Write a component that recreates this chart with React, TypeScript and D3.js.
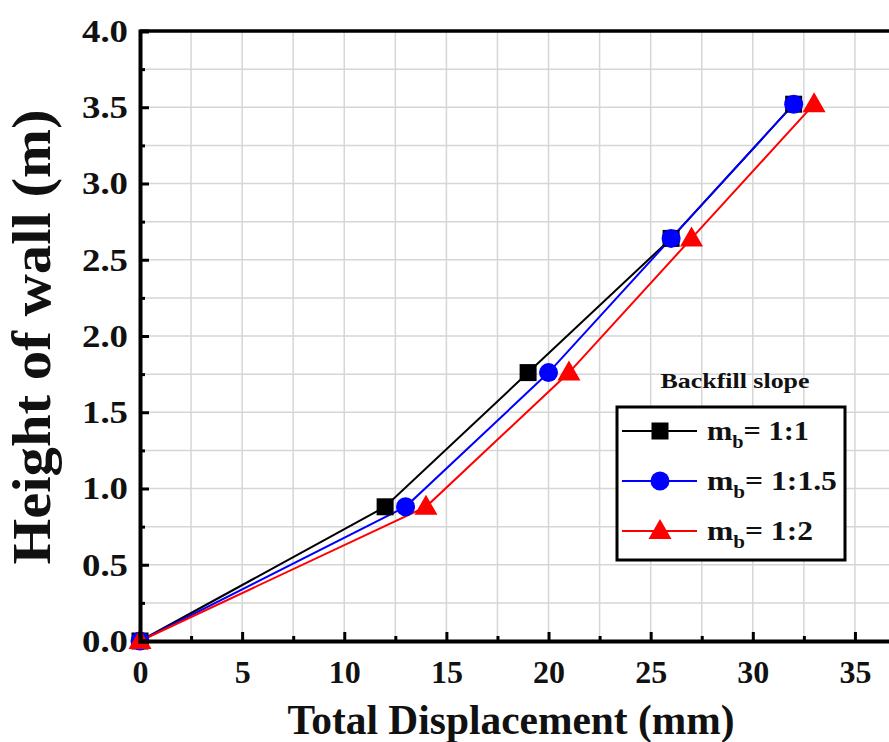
import React, { useEffect, useRef } from "react";
import * as d3 from "d3";

const seriesNames = ["1:1", "1:1.5", "1:2"];
const seriesColors = ["#000000", "#0000ff", "#ff0000"];
const seriesShapes = ["square", "circle", "triangle"];
const heights = [0, 0.88, 1.76, 2.64, 3.52];
const dispSlope11 = [0, 12, 19, 26, 32];
const dispSlope115 = [0, 13, 20, 26, 32];
const dispSlope12 = [0, 14, 21, 27, 33];
const xTicks = [0, 5, 10, 15, 20, 25, 30, 35];
const yTicks = [0, 0.5, 1.0, 1.5, 2.0, 2.5, 3.0, 3.5, 4.0];

const App = () => {
  const ref = useRef<SVGSVGElement>(null);

  useEffect(() => {
    const width = 889;
    const height = 742;
    const margin = { top: 31, left: 140 };
    const plotW = 766;
    const plotH = 610;
    const font = "'Times New Roman', 'Liberation Serif', Times, serif";

    const svg = d3.select(ref.current);
    svg.selectAll("*").remove();
    svg.attr("width", width).attr("height", height).style("background", "#fff");

    const x = d3.scaleLinear().domain([0, 37.5]).range([0, plotW]);
    const y = d3.scaleLinear().domain([0, 4]).range([plotH, 0]);

    const g = svg.append("g").attr("transform", `translate(${margin.left},${margin.top})`);

    // grid every minor step
    const xGrid = d3.range(2.5, 37.5, 2.5);
    const yGrid = d3.range(0.25, 4, 0.25);
    g.selectAll(".vg").data(xGrid).enter().append("line")
      .attr("x1", d => x(d)).attr("x2", d => x(d))
      .attr("y1", 0).attr("y2", plotH)
      .attr("stroke", "#d6d6d6").attr("stroke-width", 1.5);
    g.selectAll(".hg").data(yGrid).enter().append("line")
      .attr("x1", 0).attr("x2", plotW)
      .attr("y1", d => y(d)).attr("y2", d => y(d))
      .attr("stroke", "#d6d6d6").attr("stroke-width", 1.5);

    const series = [dispSlope11, dispSlope115, dispSlope12].map((xs, i) => ({
      name: seriesNames[i],
      color: seriesColors[i],
      shape: seriesShapes[i],
      points: xs.map((v, j) => [v, heights[j]] as [number, number]),
    }));

    const line = d3.line<[number, number]>().x(d => x(d[0])).y(d => y(d[1]));

    series.forEach(s => {
      g.append("path").datum(s.points)
        .attr("d", line)
        .attr("fill", "none")
        .attr("stroke", s.color)
        .attr("stroke-width", 2);
    });

    const drawMarker = (sel: any, shape: string, color: string, cx: number, cy: number) => {
      if (shape === "square") {
        sel.append("rect").attr("x", cx - 8.5).attr("y", cy - 8.5).attr("width", 17).attr("height", 17).attr("fill", color);
      } else if (shape === "circle") {
        sel.append("circle").attr("cx", cx).attr("cy", cy).attr("r", 9.5).attr("fill", color);
      } else {
        sel.append("path")
          .attr("d", `M${cx},${cy - 12}L${cx + 11.5},${cy + 8}L${cx - 11.5},${cy + 8}Z`)
          .attr("fill", color);
      }
    };

    series.forEach(s => {
      const mg = g.append("g");
      s.points.forEach(p => drawMarker(mg, s.shape, s.color, x(p[0]), y(p[1])));
    });

    // frame
    g.append("line").attr("x1", 0).attr("x2", plotW).attr("y1", 0).attr("y2", 0)
      .attr("stroke", "#000").attr("stroke-width", 3.5);
    g.append("line").attr("x1", plotW).attr("x2", plotW).attr("y1", 0).attr("y2", plotH)
      .attr("stroke", "#000").attr("stroke-width", 3.5);

    const xAxis = g.append("g").attr("transform", `translate(0,${plotH})`)
      .call(d3.axisBottom(x).tickValues(xTicks).tickSize(-9).tickPadding(19).tickFormat(d3.format("d")));
    const xMinor = g.append("g").attr("transform", `translate(0,${plotH})`)
      .call(d3.axisBottom(x).tickValues(d3.range(2.5, 37.5, 5)).tickSize(-5).tickFormat(() => ""));
    const yAxis = g.append("g")
      .call(d3.axisLeft(y).tickValues(yTicks).tickSize(-9).tickPadding(12).tickFormat(d3.format(".1f")));
    const yMinor = g.append("g")
      .call(d3.axisLeft(y).tickValues(d3.range(0.25, 4, 0.5)).tickSize(-5).tickFormat(() => ""));

    [xAxis, xMinor, yAxis, yMinor].forEach(a => {
      a.select(".domain").attr("stroke-width", 4).attr("stroke", "#000");
      a.selectAll(".tick line").attr("stroke-width", 3).attr("stroke", "#000");
      a.selectAll("text")
        .style("font-family", font)
        .style("font-weight", "bold")
        .style("font-size", "32px")
        .attr("fill", "#111");
    });
    yAxis.selectAll("text").attr("textLength", 46).attr("lengthAdjust", "spacingAndGlyphs");
    xMinor.select(".domain").remove();
    yMinor.select(".domain").remove();

    // axis titles
    svg.append("text")
      .attr("x", 511).attr("y", 734)
      .attr("text-anchor", "middle")
      .style("font-family", font).style("font-weight", "bold").style("font-size", "42px")
      .attr("fill", "#111")
      .attr("textLength", 447).attr("lengthAdjust", "spacingAndGlyphs")
      .text("Total Displacement (mm)");
    svg.append("text")
      .attr("transform", `translate(50,337) rotate(-90)`)
      .attr("text-anchor", "middle")
      .style("font-family", font).style("font-weight", "bold").style("font-size", "54px")
      .attr("fill", "#111")
      .attr("textLength", 455).attr("lengthAdjust", "spacingAndGlyphs")
      .text("Height of wall (m)");

    // legend
    svg.append("text")
      .attr("x", 735).attr("y", 388)
      .attr("text-anchor", "middle")
      .style("font-family", font).style("font-weight", "bold").style("font-size", "21px")
      .attr("fill", "#111")
      .attr("textLength", 149).attr("lengthAdjust", "spacingAndGlyphs")
      .text("Backfill slope");

    const legend = svg.append("g").attr("transform", "translate(617,407)");
    legend.append("rect")
      .attr("x", 0).attr("y", 0).attr("width", 228).attr("height", 153)
      .attr("fill", "#fff").attr("stroke", "#000").attr("stroke-width", 3);

    const legendWidths = [102, 130, 106];
    series.forEach((s, i) => {
      const ry = 24 + i * 50;
      legend.append("line").attr("x1", 5).attr("x2", 80).attr("y1", ry).attr("y2", ry)
        .attr("stroke", s.color).attr("stroke-width", 2);
      drawMarker(legend, s.shape, s.color, 43, ry);
      const t = legend.append("text")
        .style("font-family", font).style("font-weight", "bold").style("font-size", "27px")
        .attr("fill", "#111");
      t.append("tspan").text("m");
      t.append("tspan").attr("dy", 8).style("font-size", "18px").text("b");
      t.append("tspan").attr("dy", -8).text(`= ${s.name}`);
      const node = t.node() as SVGTextElement;
      const w = node.getBBox().width || legendWidths[i];
      t.attr("transform", `translate(90,${ry + 9}) scale(${legendWidths[i] / w},1)`);
    });
  }, []);

  return (
    <div style={{ position: "absolute", left: 0, top: 0 }}>
      <svg ref={ref} style={{ display: "block" }}></svg>
    </div>
  );
};

export default App;
